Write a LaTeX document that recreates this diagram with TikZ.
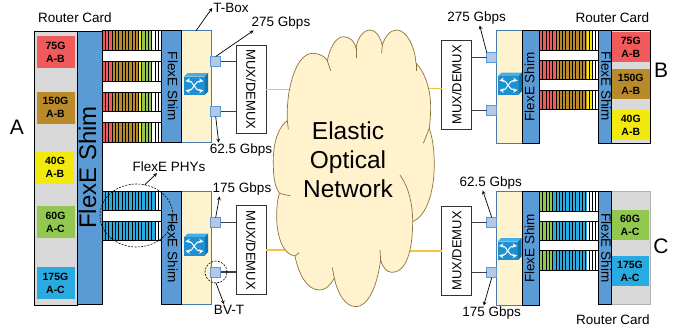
\documentclass[tikz,border=0pt]{standalone}
\usepackage{fontspec}
\setmainfont{Liberation Sans}
\usetikzlibrary{calc, shapes.geometric}

\definecolor{cardred}{HTML}{F15A5A}
\definecolor{cardbrown}{HTML}{B88A2A}
\definecolor{cardyellow}{HTML}{F2E90F}
\definecolor{cardgreen}{HTML}{92C850}
\definecolor{cardblue}{HTML}{29ABE2}
\definecolor{shimblue}{HTML}{5B9BD5}
\definecolor{boxbeige}{HTML}{FDF3CF}
\definecolor{portblue}{HTML}{B4C7E7}
\definecolor{cloudedge}{HTML}{8B7340}
\definecolor{cloudfill}{HTML}{FFF2CC}
\definecolor{fiberline}{HTML}{F5C242}
\definecolor{swfront}{HTML}{1E90D2}
\definecolor{swtop}{HTML}{45AEE6}
\definecolor{swside}{HTML}{1672AC}

\tikzset{
  rcard/.style={draw=black, fill=black!15, line width=0.8pt, minimum width=#1, inner sep=0pt, outer sep=0pt},
  bwcard/.style={font=\bfseries\fontsize{10.5}{13}\selectfont, align=center, inner sep=0pt, outer sep=0pt, minimum width=38pt, minimum height=32pt},
  shimbox/.style={draw=black, fill=shimblue, line width=0.8pt, inner sep=0pt, outer sep=0pt, font=\fontsize{13.5}{13.5}\selectfont, text height=9.5pt, text depth=3pt},
  tbox/.style={draw=shimblue!80!black, fill=boxbeige, line width=0.6pt, inner sep=0pt, outer sep=0pt},
  port/.style={draw=shimblue, fill=portblue, line width=0.6pt, minimum size=10pt, inner sep=0pt, outer sep=0pt},
  muxbox/.style={draw=black!80, fill=white, line width=0.8pt, inner sep=0pt, outer sep=0pt, minimum width=88.5pt, minimum height=30pt, font=\fontsize{13}{13}\selectfont},
  txt/.style={font=\fontsize{13.5}{15}\selectfont, inner sep=1pt},
  site/.style={font=\fontsize{21}{21}\selectfont, inner sep=0pt},
  callout/.style={->, >=stealth, line width=0.7pt, black},
  portline/.style={line width=1.1pt, black!75},
  fiber/.style={line width=1pt, fiberline},
  ring/.style={draw=black, dash pattern=on 2pt off 1.3pt, line width=0.6pt, inner sep=0pt, outer sep=0pt},
}

\newcommand{\phybar}[3]{%
  \begin{scope}[shift={(#1,#2)}]
  \foreach \sa/\sb/\sc in #3 {\fill[\sc] (\sa,0) rectangle (\sb,19.5);}
  \foreach \hx in {3.3,6.6,...,58} {\draw[line width=0.9pt] (\hx,0) -- (\hx,19.5);}
  \draw[line width=0.8pt] (0,0) rectangle (58.7,19.5);
  \end{scope}}
\newcommand{\swicon}[2]{%
  \begin{scope}[shift={(#1,#2)}]
  \fill[swtop] (0,3.5) -- (3.5,0) -- (24,0) -- (20.5,3.5) -- cycle;
  \fill[swside] (20.5,3.5) -- (24,0) -- (24,18.5) -- (20.5,22) -- cycle;
  \fill[swfront] (0,3.5) rectangle (20.5,22);
  \draw[white, line width=1pt, stealth-stealth] (1.5,8) .. controls (9,7) and (11,18.5) .. (19.5,17.5);
  \draw[white, line width=1pt, stealth-stealth] (1.5,17.5) .. controls (9,18.5) and (11,7) .. (19.5,8);
  \end{scope}}

\def\segtl{0/11/cardred, 11/36/cardbrown, 36/40/cardyellow, 40/50/cardgreen}
\def\segbl{0/54/cardblue}
\def\segtr{0/15.5/cardred, 15.5/47/cardbrown, 47/53/cardyellow}
\def\segbr{0/12/cardgreen, 12/47/cardblue}

\begin{document}
\begin{tikzpicture}[x=1pt, y=-1pt]
\useasboundingbox (0,0) rectangle (686,332);
% site A
\node[rcard=43pt, minimum height=274pt] (carda) at (56,168) {};
\node[bwcard, fill=cardred] (a75) at (55.5,52) {75G\\A-B};
\node[bwcard, fill=cardbrown] (a150) at (55.5,107.5) {150G\\A-B};
\node[bwcard, fill=cardyellow] (a40) at (55,167.5) {40G\\A-B};
\node[bwcard, fill=cardgreen] (a60) at (55.5,222) {60G\\A-C};
\node[bwcard, fill=cardblue] (a175) at (55.5,283) {175G\\A-C};
\node[shimbox, rotate=90, minimum width=273pt, minimum height=24.5pt, font=\fontsize{24}{24}\selectfont, text height=17pt, text depth=5pt] (shima) at (90,167.5) {FlexE Shim};
\node[site] (sitea) at (17,127) {A};
\node[txt] (carda1) at (75,18) {Router Card};

\phybar{102.3}{30.7}{\segtl}
\phybar{102.3}{61.5}{\segtl}
\phybar{102.3}{92}{\segtl}
\phybar{102.3}{122.7}{\segtl}
\phybar{102.3}{191.3}{\segbl}
\phybar{102.3}{221.3}{\segbl}

% upper left t-box
\node[tbox, minimum width=30pt, minimum height=111.5pt] (tboxa) at (196,86.5) {};
\node[shimbox, rotate=-90, minimum width=111.5pt, minimum height=20pt] (shimb) at (171,86.5) {FlexE Shim};
\swicon{184}{73}
\node[port] (porta) at (215.7,61.5) {};
\node[port] (portb) at (215.7,111.5) {};
\node[muxbox, rotate=-90] (muxa) at (251,89.5) {MUX/DEMUX};
\draw[portline] (porta.east) -- (porta.east -| muxa.south);
\draw[portline] (portb.east) -- (portb.east -| muxa.south);

% lower left t-box
\node[tbox, minimum width=30pt, minimum height=113.5pt] (tboxb) at (196,248) {};
\node[shimbox, rotate=-90, minimum width=113.5pt, minimum height=20pt] (shimc) at (171,248) {FlexE Shim};
\swicon{184}{233.5}
\node[port] (portc) at (215.7,222.5) {};
\node[port] (portd) at (215.7,272) {};
\node[muxbox, rotate=-90] (muxb) at (251,250) {MUX/DEMUX};
\draw[portline] (portc.east) -- (portc.east -| muxb.south);
\draw[portline] (portd.east) -- (portd.east -| muxb.south);
\node[ellipse, ring, minimum width=73pt, minimum height=63pt] (phyring) at (136.5,215.5) {};
\node[circle, ring, minimum size=22pt] (bvring) at (216,272) {};

% site B
\node[rcard=39.5pt, minimum height=113pt] (cardb) at (631,86.5) {};
\node[bwcard, fill=cardred, minimum height=30.5pt] (b75) at (630.8,47) {75G\\A-B};
\node[bwcard, fill=cardbrown, minimum height=30pt] (b150) at (630.8,84) {150G\\A-B};
\node[bwcard, fill=cardyellow, minimum height=30pt] (b40) at (630.8,125) {40G\\A-B};
\node[site] (siteb) at (661,70.5) {B};
\node[txt] (cardb1) at (612.5,18) {Router Card};
\node[shimbox, rotate=-90, minimum width=113pt, minimum height=12.7pt] (shimd) at (604.6,86.5) {FlexE Shim};
\phybar{539.5}{30.5}{\segtr}
\phybar{539.5}{60}{\segtr}
\phybar{539.5}{90}{\segtr}
\node[tbox, minimum width=26pt, minimum height=113pt] (tboxc) at (509.6,86.8) {};
\node[shimbox, rotate=90, minimum width=113pt, minimum height=16.7pt] (shime) at (531,86.8) {FlexE Shim};
\swicon{498}{72.5}
\node[port] (porte) at (491.7,57.5) {};
\node[port] (portf) at (491.7,110.5) {};
\node[muxbox, rotate=90] (muxc) at (456.7,85) {MUX/DEMUX};
\draw[portline] (porte.west) -- (porte.west -| muxc.south);
\draw[portline] (portf.west) -- (portf.west -| muxc.south);

% site C
\node[rcard=39.5pt, minimum height=113.5pt, draw=black!30] (cardc) at (631,248) {};
\node[bwcard, fill=cardgreen, minimum height=30pt] (c60) at (630,225) {60G\\A-C};
\node[bwcard, fill=cardblue, minimum height=30pt] (c175) at (630,271) {175G\\A-C};
\node[site] (sitec) at (661,246) {C};
\node[txt] (cardc1) at (613,320) {Router Card};
\node[shimbox, rotate=-90, minimum width=113.5pt, minimum height=12.7pt] (shimf) at (604.6,248) {FlexE Shim};
\phybar{539.5}{191.5}{\segbr}
\phybar{539.5}{221}{\segbr}
\phybar{539.5}{250.7}{\segbr}
\node[tbox, minimum width=26pt, minimum height=113.5pt] (tboxd) at (509.6,248.3) {};
\node[shimbox, rotate=90, minimum width=113.5pt, minimum height=16.7pt] (shimg) at (531,248.3) {FlexE Shim};
\swicon{497.5}{238}
\node[port] (portg) at (491.7,222.3) {};
\node[port] (porth) at (491.7,272.7) {};
\node[muxbox, rotate=90] (muxd) at (456.7,251) {MUX/DEMUX};
\draw[portline] (portg.west) -- (portg.west -| muxd.south);
\draw[portline] (porth.west) -- (porth.west -| muxd.south);

% fibers run under the cloud
\coordinate (cloudc) at (348,160);
\draw[fiber] (muxa.north) -- (muxa.north -| cloudc);
\draw[fiber, line width=1.3pt] (muxb.north) -- (muxb.north -| cloudc);
\draw[fiber] ([yshift=-3pt]muxc.north) -- ([yshift=-3pt]muxc.north -| cloudc);
\draw[fiber, line width=1.3pt] (muxd.north) -- (muxd.north -| cloudc);

% cloud
\begin{scope}[shift={(270,30)}, x=0.3333pt, y=-0.3333pt, draw=cloudedge, line width=0.7pt]
\draw[fill=cloudfill] (52,272) .. controls (48,170) and (80,70) .. (128,70) .. controls (150,70) and (165,80) .. (172,92)
  .. controls (180,50) and (200,20) .. (220,20) .. controls (240,20) and (255,35) .. (258,55)
  .. controls (262,25) and (280,0) .. (300,0) .. controls (318,0) and (330,20) .. (337,45)
  .. controls (345,20) and (360,0) .. (380,0) .. controls (410,0) and (435,50) .. (438,100)
  .. controls (465,125) and (482,180) .. (482,230) .. controls (482,255) and (480,280) .. (478,295)
  .. controls (490,330) and (495,380) .. (492,430) .. controls (488,500) and (465,560) .. (428,575)
  .. controls (428,630) and (420,727) .. (365,727) .. controls (350,727) and (338,712) .. (332,690)
  .. controls (320,780) and (290,830) .. (258,830) .. controls (225,830) and (203,790) .. (193,745)
  .. controls (175,775) and (160,780) .. (148,780) .. controls (110,780) and (85,730) .. (75,678)
  .. controls (40,675) and (20,620) .. (20,560) .. controls (20,535) and (22,510) .. (28,490)
  .. controls (10,460) and (10,430) .. (10,390) .. controls (10,330) and (30,285) .. (52,272) -- cycle;
\draw (172,92) -- (182,122);
\draw (258,55) -- (258,85);
\draw (337,45) -- (335,70);
\draw (438,100) -- (438,122);
\draw (478,295) -- (460,340);
\draw (390,435) .. controls (415,470) and (428,520) .. (428,575);
\draw (332,690) -- (330,660);
\draw (193,745) -- (187,713);
\draw (75,678) -- (88,668);
\draw (28,490) -- (62,498);
\draw (52,272) -- (55,298);
\end{scope}
\node[align=center, font=\fontsize{24.5}{29}\selectfont, inner sep=0pt] (cloud) at (cloudc) {Elastic\\Optical\\Network};

% labels and arrows
\node[txt] (tboxlbl) at (231,8) {T-Box};
\node[txt] (lbla) at (281,23) {275 Gbps};
\node[txt] (lblb) at (241,150) {62.5 Gbps};
\node[txt] (physlbl) at (169,167) {FlexE PHYs};
\node[txt] (lblc) at (242,189) {175 Gbps};
\node[txt] (bvtlbl) at (229,310) {BV-T};
\node[txt] (lble) at (476.7,18) {275 Gbps};
\node[txt] (lblg) at (490.7,183) {62.5 Gbps};
\node[txt] (lblh) at (491.7,313) {175 Gbps};
\draw[callout] (tboxa.north) -- (tboxlbl.west);
\draw[callout] (porta.north) -- ([xshift=3pt]lbla.south west);
\draw[callout] (portb.south) -- ([xshift=10pt]lblb.north west);
\draw[callout] (phyring.75) -- ([xshift=-12pt]physlbl.south);
\draw[callout] (portc.north) -- ([xshift=8pt]lblc.south west);
\draw[callout] (bvring.south) -- ([xshift=-5pt]bvtlbl.north);
\draw[callout] (porte.north west) -- ([xshift=3pt]lble.south);
\draw[callout] (portg.north) -- ([xshift=-8pt]lblg.south);
\draw[callout] (porth.south) -- ([xshift=-8pt]lblh.north);
\end{tikzpicture}
\end{document}
